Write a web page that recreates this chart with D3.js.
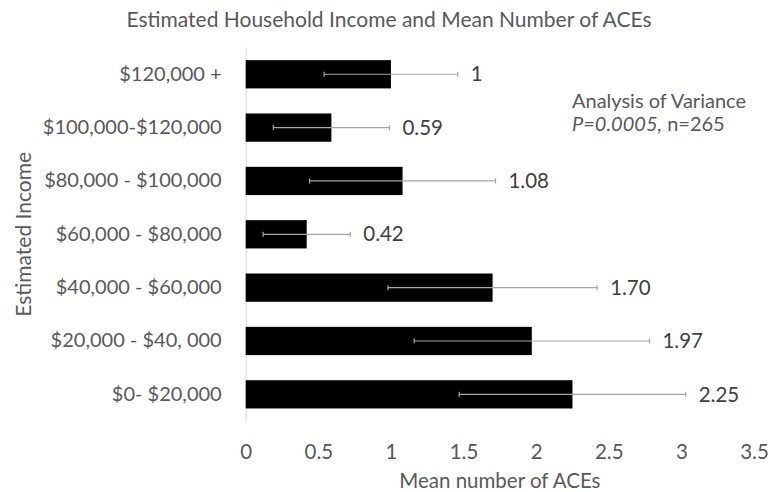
<!DOCTYPE html>
<html>
<head>
<meta charset="utf-8">
<script src="https://cdn.jsdelivr.net/npm/d3@7"></script>
<style>
  body { margin: 0; background: #fff; }
  text { font-family: Lato, "Open Sans", sans-serif; fill: #595959; }
</style>
</head>
<body>
<svg width="772" height="492"></svg>
<script>
// data
const categories = ['$120,000 +', '$100,000-$120,000', '$80,000 - $100,000', '$60,000 - $80,000',
                    '$40,000 - $60,000', '$20,000 - $40, 000', '$0- $20,000'];
const means = [1, 0.59, 1.08, 0.42, 1.70, 1.97, 2.25];
const meanLabels = ['1', '0.59', '1.08', '0.42', '1.70', '1.97', '2.25'];
const errors = [0.46, 0.40, 0.64, 0.30, 0.72, 0.81, 0.78];
const xTicks = [0, 0.5, 1, 1.5, 2, 2.5, 3, 3.5];

const svg = d3.select('svg');
const plot = { left: 245.7, right: 754, top: 47.6, bottom: 421 };

const x = d3.scaleLinear().domain([0, 3.5]).range([plot.left, plot.right]);
const y = d3.scaleBand().domain(categories).range([plot.top, plot.bottom])
      .paddingInner(0.47).paddingOuter(0.235);

// title
svg.append('text')
      .attr('x', 389).attr('y', 27)
      .attr('text-anchor', 'middle')
      .style('font-size', '21px')
      .text('Estimated Household Income and Mean Number of ACEs');

// x axis (labels only)
const xAxis = svg.append('g')
      .attr('transform', `translate(0, ${plot.bottom})`)
      .call(d3.axisBottom(x).tickValues(xTicks).tickSize(0).tickPadding(23).tickFormat(d3.format('')));
xAxis.select('.domain').remove();
xAxis.selectAll('text').style('font-size', '20.5px').style('font-family', null);

// y axis
const yAxis = svg.append('g')
      .attr('transform', `translate(${plot.left}, 0)`)
      .call(d3.axisLeft(y).tickSize(0).tickPadding(24));
yAxis.select('.domain').attr('stroke', '#d9d9d9').attr('d', `M0.5,${plot.top}V${plot.bottom}`);
yAxis.selectAll('text').style('font-size', '20px').style('font-family', null);

// bars
svg.append('g').selectAll('rect')
      .data(means)
      .enter()
      .append('rect')
      .attr('x', x(0))
      .attr('y', (d, i) => y(categories[i]))
      .attr('width', d => x(d) - x(0))
      .attr('height', y.bandwidth())
      .attr('fill', '#000');

// error bars
const err = svg.append('g').attr('stroke', '#a6a6a6').attr('stroke-width', 1.2);
means.forEach((m, i) => {
      const cy = y(categories[i]) + y.bandwidth() / 2;
      err.append('line')
            .attr('x1', x(m - errors[i])).attr('x2', x(m + errors[i]))
            .attr('y1', cy).attr('y2', cy);
      [m - errors[i], m + errors[i]].forEach(v => {
            err.append('line')
                  .attr('x1', x(v)).attr('x2', x(v))
                  .attr('y1', cy - 2.5).attr('y2', cy + 2.5);
      });
});

// data labels
svg.append('g').selectAll('text')
      .data(means)
      .enter()
      .append('text')
      .attr('x', (d, i) => x(d + errors[i]) + 13)
      .attr('y', (d, i) => y(categories[i]) + y.bandwidth() / 2)
      .attr('dy', '0.35em')
      .style('font-size', '20.5px')
      .style('fill', '#404040')
      .text((d, i) => meanLabels[i]);

// axis titles
svg.append('text')
      .attr('x', (plot.left + plot.right) / 2).attr('y', 488)
      .attr('text-anchor', 'middle')
      .style('font-size', '20.5px')
      .text('Mean number of ACEs');

svg.append('text')
      .attr('transform', `translate(31, ${(plot.top + plot.bottom) / 2}) rotate(-90)`)
      .attr('text-anchor', 'middle')
      .style('font-size', '21px')
      .text('Estimated Income');

// annotation
const note = svg.append('text').attr('x', 572).attr('y', 108).style('font-size', '20px');
note.append('tspan').text('Analysis of Variance');
const line2 = svg.append('text').attr('x', 572).attr('y', 131).style('font-size', '20px');
line2.append('tspan').style('font-style', 'italic').text('P=0.0005,');
line2.append('tspan').text(' n=265');
</script>
</body>
</html>
